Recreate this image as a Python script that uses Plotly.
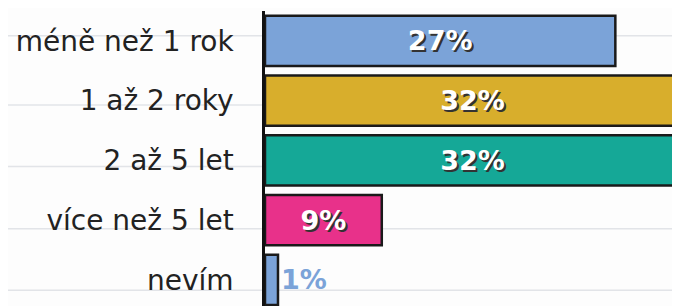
import plotly.graph_objects as go

categories = ["méně než 1 rok", "1 až 2 roky", "2 až 5 let", "více než 5 let", "nevím"]
values = [27, 32, 32, 9, 1]
labels = ["27%", "32%", "32%", "9%", "1%"]
colors = ["#7BA3D8", "#D8AE2C", "#15A897", "#E8318A", "#7BA3D8"]
text_colors = ["white", "white", "white", "white", "#7BA3D8"]
positions = ["inside", "inside", "inside", "inside", "outside"]

fig = go.Figure()
fig.add_trace(go.Bar(
    x=values, y=categories, orientation="h",
    marker=dict(color=colors, line=dict(color="#1a1a1a", width=2.5)),
    text=labels, textposition=positions, insidetextanchor="middle",
    textfont=dict(family="DejaVu Sans", size=27, color=text_colors,
                  weight="bold", shadow="2px 2px 0px #333"),
    outsidetextfont=dict(family="DejaVu Sans", size=27, color="#7BA3D8",
                         weight="bold", shadow="none"),
    cliponaxis=False, width=0.84, constraintext="none",
))

# notebook ruled lines (decoration)
for yy in [0.918, 0.690, 0.487, 0.281, 0.078]:
    fig.add_shape(type="line", xref="paper", yref="paper", x0=-1, x1=1.01,
                  y0=yy, y1=yy, line=dict(color="#E2E4E8", width=1.5), layer="below")

fig.update_layout(
    width=680, height=306,
    margin=dict(l=257, r=0, t=3, b=0, autoexpand=False),
    paper_bgcolor="#FDFDFD", plot_bgcolor="rgba(0,0,0,0)",
    showlegend=False,
    xaxis=dict(range=[0, 32.6], visible=False, automargin=False),
    yaxis=dict(range=[4.57, -0.5], showline=True, linecolor="#111", linewidth=2.5,
               showgrid=False, ticks="", ticklabelstandoff=23, automargin=False,
               tickfont=dict(family="DejaVu Sans", size=28, color="#222")),
)
fig.write_html("out.html")
